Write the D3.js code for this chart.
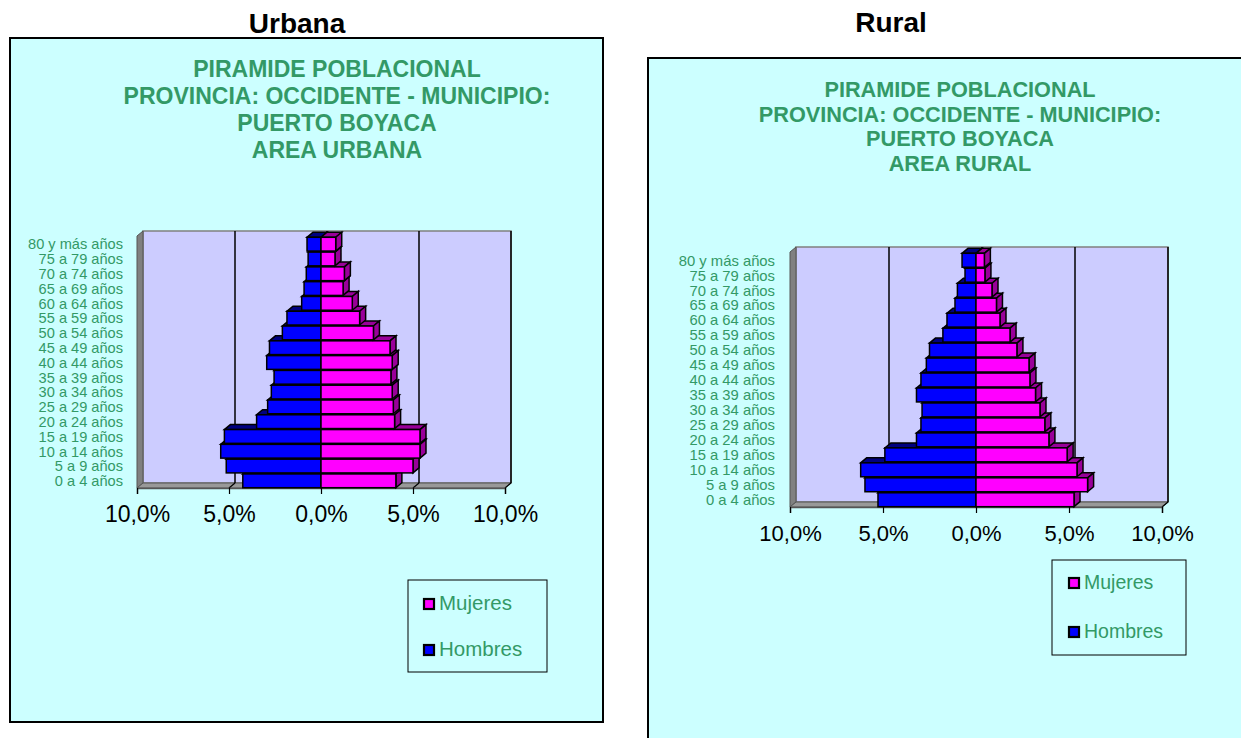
<!DOCTYPE html>
<html><head><meta charset="utf-8">
<script src="https://cdn.jsdelivr.net/npm/d3@7"></script>
<style>body{margin:0;background:#fff;}svg{display:block;font-family:"Liberation Sans",Arial,sans-serif;}</style>
</head><body>
<svg id="c" width="1241" height="738"></svg>
<script>
const ageGroups = ["0 a 4 años","5 a 9 años","10 a 14 años","15 a 19 años","20 a 24 años","25 a 29 años","30 a 34 años","35 a 39 años","40 a 44 años","45 a 49 años","50 a 54 años","55 a 59 años","60 a 64 años","65 a 69 años","70 a 74 años","75 a 79 años","80 y más años"];
const urbanMen   = [4.25,5.15,5.45,5.25,3.5,2.9,2.7,2.55,2.95,2.8,2.1,1.85,1.05,0.92,0.8,0.7,0.76];
const urbanWomen = [4.07,5.0,5.38,5.38,4.0,3.93,3.87,3.8,3.87,3.75,2.85,2.1,1.7,1.2,1.27,0.76,0.8];
const ruralMen   = [5.27,5.97,6.2,4.9,3.2,2.96,2.9,3.2,2.96,2.67,2.5,1.78,1.56,1.13,1.0,0.59,0.75];
const ruralWomen = [5.27,6.0,5.43,4.9,3.92,3.7,3.44,3.2,2.9,2.85,2.2,1.83,1.29,1.1,0.86,0.48,0.45];
const tickValues = [-10,-5,0,5,10];
const tickLabels = ["10,0%","5,0%","0,0%","5,0%","10,0%"];
const seriesNames = ["Mujeres","Hombres"];
const panelTitles = ["Urbana","Rural"];
const chartTitlesUrban = ["PIRAMIDE POBLACIONAL","PROVINCIA: OCCIDENTE - MUNICIPIO:","PUERTO BOYACA","AREA URBANA"];
const chartTitlesRural = ["PIRAMIDE POBLACIONAL","PROVINCIA: OCCIDENTE - MUNICIPIO:","PUERTO BOYACA","AREA RURAL"];

const GREEN = "#339966";
const svg = d3.select("#c");

function drawChart(cfg, men, women, titles) {
  const g = svg.append("g");
  g.append("rect").attr("x", cfg.box[0]).attr("y", cfg.box[1]).attr("width", cfg.box[2]).attr("height", cfg.box[3])
    .attr("fill", "#CCFFFF").attr("stroke", "#000").attr("stroke-width", 2);
  svg.append("text").attr("x", cfg.panelTitle[0]).attr("y", cfg.panelTitle[1]).attr("text-anchor", "middle")
    .attr("font-weight", "bold").attr("font-size", 28).attr("fill", "#000").text(cfg.panelName);
  titles.forEach((t, i) => {
    g.append("text").attr("x", cfg.titleX).attr("y", cfg.titleY + i * cfg.titleLH).attr("text-anchor", "middle")
      .attr("font-weight", "bold").attr("font-size", cfg.titleFS).attr("fill", GREEN).text(t);
  });
  const x = d3.scaleLinear().domain([-10, 10]).range(cfg.xRange);
  const y = d3.scaleBand().domain(ageGroups).range([cfg.yBottom, cfg.yTop]).paddingInner(0.07).paddingOuter(0.02);
  const dx = cfg.dx, dy = cfg.dy;
  const x0 = x(-10), x1 = x(10), yT = cfg.yTop - 1, yB = cfg.yBottom;
  const poly = pts => pts.map(p => p.join(",")).join(" ");
  g.append("rect").attr("x", x0 + dx).attr("y", yT - dy).attr("width", x1 - x0).attr("height", yB - yT)
    .attr("fill", "#CCCCFF").attr("stroke", "#808080").attr("stroke-width", 1.5);
  g.append("polygon").attr("points", poly([[x0, yT], [x0 + dx, yT - dy], [x0 + dx, yB - dy], [x0, yB]]))
    .attr("fill", "#808080").attr("stroke", "#555").attr("stroke-width", 1);
  g.append("polygon").attr("points", poly([[x0, yB], [x0 + dx, yB - dy], [x1 + dx, yB - dy], [x1, yB]]))
    .attr("fill", "#999999").attr("stroke", "#555").attr("stroke-width", 1);
  tickValues.forEach(v => {
    if (v === -10) return;
    g.append("line").attr("x1", x(v) + dx).attr("x2", x(v) + dx).attr("y1", yT - dy).attr("y2", yB - dy)
      .attr("stroke", "#000").attr("stroke-width", 1.5);
    g.append("line").attr("x1", x(v) + dx).attr("x2", x(v)).attr("y1", yB - dy).attr("y2", yB)
      .attr("stroke", "#000").attr("stroke-width", 1.2);
  });
  const axis = d3.axisBottom(x).tickValues(tickValues).tickSize(6).tickPadding(12)
    .tickFormat((d, i) => tickLabels[i]);
  const ax = g.append("g").attr("transform", `translate(0,${yB})`).call(axis);
  ax.select(".domain").attr("stroke", "#555").attr("stroke-width", 1.5);
  ax.selectAll(".tick line").attr("stroke", "#000").attr("stroke-width", 1.2);
  ax.selectAll("text").attr("font-size", cfg.tickFS).attr("fill", "#000")
    .attr("font-family", '"Liberation Sans",Arial,sans-serif');
  const h = y.bandwidth();
  const rows = g.append("g").selectAll("g").data(ageGroups.map((a, i) => i)).join("g");
  rows.each(function(i) {
    const r = d3.select(this);
    const yy = y(ageGroups[i]);
    const bl = x(-men[i]), c0 = x(0), pr = x(women[i]);
    r.append("polygon").attr("points", poly([[bl, yy], [c0, yy], [c0 + dx, yy - dy], [bl + dx, yy - dy]]))
      .attr("fill", "#000080").attr("stroke", "#000").attr("stroke-width", 1.5);
    r.append("polygon").attr("points", poly([[c0, yy], [pr, yy], [pr + dx, yy - dy], [c0 + dx, yy - dy]]))
      .attr("fill", "#990099").attr("stroke", "#000").attr("stroke-width", 1.5);
    r.append("polygon").attr("points", poly([[pr, yy], [pr + dx, yy - dy], [pr + dx, yy + h - dy], [pr, yy + h]]))
      .attr("fill", "#990099").attr("stroke", "#000").attr("stroke-width", 1.5);
    r.append("rect").attr("x", bl).attr("y", yy).attr("width", c0 - bl).attr("height", h)
      .attr("fill", "#0000FF").attr("stroke", "#000").attr("stroke-width", 1.5);
    r.append("rect").attr("x", c0).attr("y", yy).attr("width", pr - c0).attr("height", h)
      .attr("fill", "#FF00FF").attr("stroke", "#000").attr("stroke-width", 1.5);
  });
  g.append("g").selectAll("text").data(ageGroups).join("text")
    .attr("x", x0 - cfg.labelGap).attr("y", d => y(d) + h / 2).attr("dy", "0.36em")
    .attr("text-anchor", "end").attr("font-size", cfg.labelFS).attr("fill", GREEN).text(d => d);
  const L = cfg.legend;
  g.append("rect").attr("x", L.x).attr("y", L.y).attr("width", L.w).attr("height", L.h)
    .attr("fill", "none").attr("stroke", "#000").attr("stroke-width", 1);
  const colors = ["#FF00FF", "#0000FF"];
  seriesNames.forEach((s, i) => {
    const by = L.rowY[i];
    g.append("rect").attr("x", L.sx).attr("y", by - 11).attr("width", 10).attr("height", 10)
      .attr("fill", colors[i]).attr("stroke", "#000").attr("stroke-width", 2.2);
    g.append("text").attr("x", L.sx + 15).attr("y", by).attr("font-size", L.fs).attr("fill", GREEN).text(s);
  });
}

drawChart({
  box: [10, 38, 593, 684], panelName: panelTitles[0], panelTitle: [297, 33],
  titleX: 337, titleY: 77, titleLH: 27, titleFS: 23,
  xRange: [137, 505], yTop: 237, yBottom: 488, dx: 6, dy: 5,
  tickFS: 23, labelFS: 14.6, labelGap: 14,
  legend: { x: 408, y: 580, w: 139, h: 92, sx: 424, rowY: [610, 656], fs: 20.5 }
}, urbanMen, urbanWomen, chartTitlesUrban);

drawChart({
  box: [648, 58, 700, 720], panelName: panelTitles[1], panelTitle: [891, 32],
  titleX: 960, titleY: 97, titleLH: 24.5, titleFS: 21.7,
  xRange: [790, 1162], yTop: 253, yBottom: 507, dx: 6, dy: 5,
  tickFS: 22, labelFS: 14.8, labelGap: 15,
  legend: { x: 1052, y: 560, w: 134, h: 95, sx: 1069, rowY: [589, 638], fs: 19.5 }
}, ruralMen, ruralWomen, chartTitlesRural);
</script>
</body></html>
